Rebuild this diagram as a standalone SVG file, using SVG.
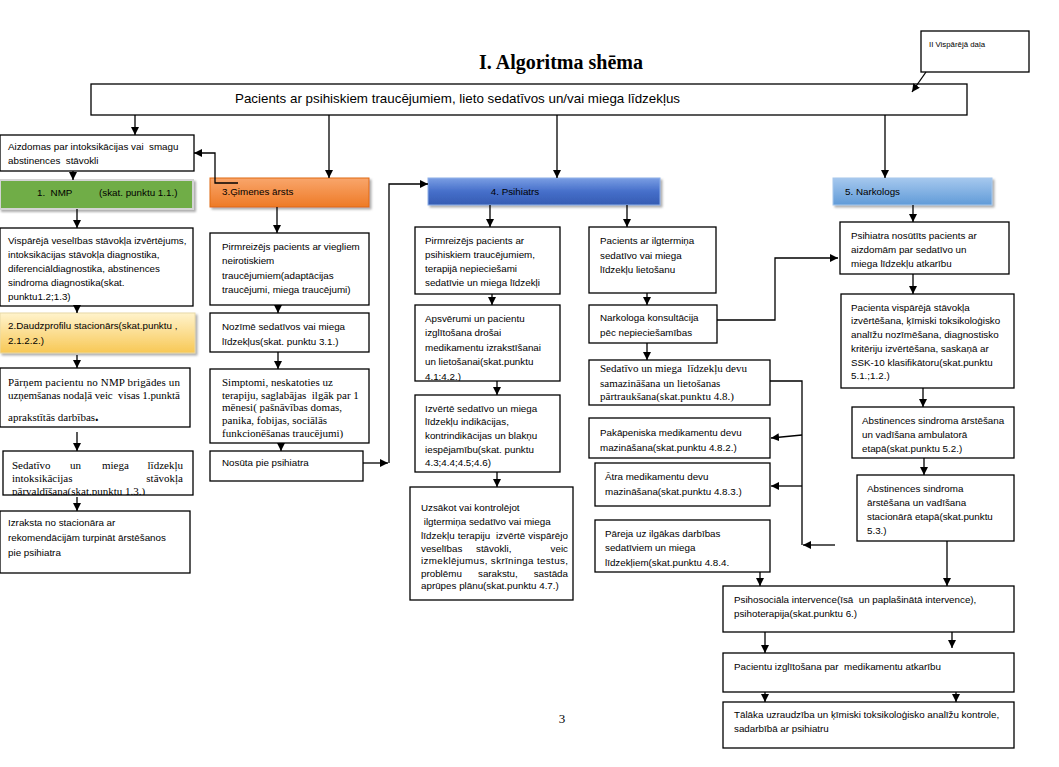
<svg xmlns="http://www.w3.org/2000/svg" width="1059" height="767" viewBox="0 0 1059 767">
<style>
.box{fill:#fff;stroke:#000;stroke-width:1.3}
.t{font-family:"Liberation Sans",Arial,sans-serif;font-size:9.8px;fill:#000;white-space:pre}
.s{font-family:"Liberation Serif","Times New Roman",serif;font-size:11px;fill:#000;white-space:pre}
.ln{fill:none;stroke:#000;stroke-width:1.3}
.ar{marker-end:url(#ah)}
</style>
<defs>
<marker id="ah" viewBox="0 0 10 10" refX="10" refY="5" markerWidth="8" markerHeight="8" markerUnits="userSpaceOnUse" orient="auto"><path d="M0,0 L10,5 L0,10 z" fill="#000"/></marker>
<filter id="sh" x="-5%" y="-20%" width="110%" height="150%"><feDropShadow dx="2" dy="2" stdDeviation="1" flood-color="#777" flood-opacity="0.6"/></filter>
<linearGradient id="gOr" x1="0" y1="0" x2="0" y2="1"><stop offset="0" stop-color="#f9a66c"/><stop offset="1" stop-color="#ee7a26"/></linearGradient>
<linearGradient id="gBl" x1="0" y1="0" x2="0" y2="1"><stop offset="0" stop-color="#7a9ee3"/><stop offset="0.5" stop-color="#466fca"/><stop offset="1" stop-color="#355bb2"/></linearGradient>
<linearGradient id="gLb" x1="0" y1="0" x2="0" y2="1"><stop offset="0" stop-color="#a6c8ee"/><stop offset="1" stop-color="#609bd8"/></linearGradient>
<linearGradient id="gYe" x1="0" y1="0" x2="0" y2="1"><stop offset="0" stop-color="#fff3cc"/><stop offset="1" stop-color="#f8c855"/></linearGradient>
<clipPath id="cSed"><rect x="3" y="451" width="190" height="44"/></clipPath>
<clipPath id="cApsv"><rect x="415" y="305" width="145" height="76"/></clipPath>
</defs>

<text x="561" y="69" text-anchor="middle" font-family="Liberation Serif,Times New Roman,serif" font-size="20" font-weight="bold">I. Algoritma shēma</text>
<text x="562" y="723" text-anchor="middle" font-family="Liberation Serif,Times New Roman,serif" font-size="13">3</text>

<g id="n-visparejadala"><rect class="box" x="921" y="31" width="108" height="41"/><text class="t" x="929" y="47" style="font-size:8px" textLength="56" lengthAdjust="spacingAndGlyphs">II Vispārējā daļa</text></g>

<g id="n-main"><rect class="box" x="91" y="84" width="876" height="31"/><text class="t" x="235" y="103" style="font-size:13.5px" textLength="445" lengthAdjust="spacingAndGlyphs">Pacients ar psihiskiem traucējumiem, lieto sedatīvos un/vai miega līdzekļus</text></g>

<g id="n-aizdomas"><rect class="box" x="0" y="135" width="194" height="36"/><text class="t" x="8" y="150">Aizdomas par intoksikācijas vai  smagu</text><text class="t" x="8" y="164">abstinences  stāvokli</text></g>

<g id="n-nmp"><rect x="0" y="180" width="193" height="29" fill="#70ad47" stroke="#d4d4d4" stroke-width="2" filter="url(#sh)"/><text class="t" x="37" y="196">1.  NMP</text><text class="t" x="99" y="196">(skat. punktu 1.1.)</text></g>

<g id="n-visp"><rect class="box" x="0" y="228" width="193" height="78"/>
<text class="t" x="8" y="244">Vispārējā veselības stāvokļa izvērtējums,</text>
<text class="t" x="8" y="258">intoksikācijas stāvokļa diagnostika,</text>
<text class="t" x="8" y="272">diferenciāldiagnostika, abstinences</text>
<text class="t" x="8" y="286">sindroma diagnostika(skat.</text>
<text class="t" x="8" y="300">punktu1.2;1.3)</text></g>

<g id="n-daudz"><rect x="0" y="313" width="195" height="40" fill="url(#gYe)" stroke="#e8d9a8" stroke-width="1" filter="url(#sh)"/><text class="t" x="8" y="329">2.Daudzprofilu stacionārs(skat.punktu ,</text><text class="t" x="8" y="344">2.1.2.2.)</text></g>

<g id="n-parnem"><rect class="box" x="0" y="368" width="190" height="59"/>
<text class="s" x="8" y="386" textLength="172" lengthAdjust="spacing">Pārņem pacientu no NMP brigādes un</text>
<text class="s" x="8" y="399" textLength="172" lengthAdjust="spacing">uzņemšanas nodaļā veic  visas 1.punktā</text>
<text class="s" x="8" y="421">aprakstītās darbības<tspan font-size="14" font-weight="bold">.</tspan></text></g>

<g id="n-sedintox"><rect class="box" x="3" y="451" width="190" height="44"/>
<g clip-path="url(#cSed)">
<text class="s" y="469"><tspan x="12">Sedatīvo</tspan><tspan x="70">un</tspan><tspan x="102">miega</tspan><tspan x="183" text-anchor="end">līdzekļu</tspan></text>
<text class="s" y="482"><tspan x="12">intoksikācijas</tspan><tspan x="183" text-anchor="end">stāvokļa</tspan></text>
<text class="s" x="12" y="495">pārvaldīšana(skat.punktu 1.3.)</text>
</g></g>

<g id="n-izraksta"><rect class="box" x="0" y="511" width="190" height="62"/>
<text class="t" x="8" y="526">Izraksta no stacionāra ar</text>
<text class="t" x="8" y="541">rekomendācijām turpināt ārstēšanos</text>
<text class="t" x="8" y="556">pie psihiatra</text></g>

<g id="n-gimenes"><rect x="210" y="178" width="159" height="29" fill="url(#gOr)" stroke="#e06a10" stroke-width="1" filter="url(#sh)"/><text class="t" x="222" y="195">3.Ģimenes ārsts</text></g>

<g id="n-gpirm"><rect class="box" x="210" y="233" width="159" height="72"/>
<text class="t" x="222" y="250">Pirmreizējs pacients ar viegliem</text>
<text class="t" x="222" y="264">neirotiskiem</text>
<text class="t" x="222" y="279">traucējumiem(adaptācijas</text>
<text class="t" x="222" y="293">traucējumi, miega traucējumi)</text></g>

<g id="n-nozime"><rect class="box" x="210" y="313" width="159" height="39"/>
<text class="t" x="222" y="330">Nozīmē sedatīvos vai miega</text>
<text class="t" x="222" y="345">līdzekļus(skat. punktu 3.1.)</text></g>

<g id="n-simptomi"><rect class="box" x="210" y="369" width="159" height="74"/>
<text class="s" x="222" y="386">Simptomi, neskatoties uz</text>
<text class="s" x="222" y="399">terapiju, saglabājas  ilgāk par 1</text>
<text class="s" x="222" y="411">mēnesi( pašnāvības domas,</text>
<text class="s" x="222" y="424">panika, fobijas, sociālās</text>
<text class="s" x="222" y="437">funkcionēšanas traucējumi)</text></g>

<g id="n-nosuta"><rect class="box" x="210" y="451" width="153" height="30"/><text class="t" x="222" y="466">Nosūta pie psihiatra</text></g>

<g id="n-psihiatrs"><rect x="428" y="178" width="232" height="27" fill="url(#gBl)" stroke="#8fb0e8" stroke-width="1" filter="url(#sh)"/><text class="t" x="515" y="195" text-anchor="middle">4. Psihiatrs</text></g>

<g id="n-ppirm"><rect class="box" x="415" y="227" width="145" height="67"/>
<text class="t" x="425" y="244">Pirmreizējs pacients ar</text>
<text class="t" x="425" y="258">psihiskiem traucējumiem,</text>
<text class="t" x="425" y="272">terapijā nepieciešami</text>
<text class="t" x="425" y="286">sedatīvie un miega līdzekļi</text></g>

<g id="n-apsv"><rect class="box" x="415" y="305" width="145" height="76"/>
<g clip-path="url(#cApsv)">
<text class="t" x="425" y="322">Apsvērumi un pacientu</text>
<text class="t" x="425" y="336">izglītošana drošai</text>
<text class="t" x="425" y="351">medikamentu izrakstīšanai</text>
<text class="t" x="425" y="365">un lietošanai(skat.punktu</text>
<text class="t" x="425" y="380">4.1:4.2.)</text>
</g></g>

<g id="n-izverte"><rect class="box" x="415" y="395" width="145" height="77"/>
<text class="t" x="425" y="412">Izvērtē sedatīvo un miega</text>
<text class="t" x="425" y="425">līdzekļu indikācijas,</text>
<text class="t" x="425" y="439">kontrindikācijas un blakņu</text>
<text class="t" x="425" y="453">iespējamību(skat. punktu</text>
<text class="t" x="425" y="466">4.3;4.4;4.5;4.6)</text></g>

<g id="n-uzsakot"><rect class="box" x="410" y="487" width="163" height="113"/>
<text class="t" x="421" y="511">Uzsākot vai kontrolējot</text>
<text class="t" x="421" y="525"> ilgtermiņa sedatīvo vai miega</text>
<text class="t" x="421" y="539" textLength="147" lengthAdjust="spacing">līdzekļu terapiju  izvērtē vispārējo</text>
<text class="t" y="552"><tspan x="421">veselības</tspan><tspan x="476">stāvokli,</tspan><tspan x="568" text-anchor="end">veic</tspan></text>
<text class="t" x="421" y="564" textLength="147" lengthAdjust="spacing">izmeklējumus, skrīninga testus,</text>
<text class="t" y="577"><tspan x="421">problēmu</tspan><tspan x="478">sarakstu,</tspan><tspan x="568" text-anchor="end">sastāda</tspan></text>
<text class="t" x="421" y="589">aprūpes plānu(skat.punktu 4.7.)</text></g>

<g id="n-ilgterm"><rect class="box" x="589" y="227" width="127" height="66"/>
<text class="t" x="600" y="244">Pacients ar ilgtermiņa</text>
<text class="t" x="600" y="259">sedatīvo vai miega</text>
<text class="t" x="600" y="273">līdzekļu lietošanu</text></g>

<g id="n-narkkons"><rect class="box" x="589" y="305" width="128" height="38"/>
<text class="t" x="600" y="321">Narkologa konsultācija</text>
<text class="t" x="600" y="336">pēc nepieciešamības</text></g>

<g id="n-devu"><rect class="box" x="589" y="360" width="181" height="45"/>
<text class="s" x="600" y="372">Sedatīvo un miega  līdzekļu devu</text>
<text class="s" x="600" y="387">samazināšana un lietošanas</text>
<text class="s" x="600" y="400">pārtraukšana(skat.punktu 4.8.)</text></g>

<g id="n-pakap"><rect class="box" x="589" y="418" width="181" height="40"/>
<text class="t" x="600" y="436">Pakāpeniska medikamentu devu</text>
<text class="t" x="600" y="451">mazināšana(skat.punktu 4.8.2.)</text></g>

<g id="n-atra"><rect class="box" x="595" y="463" width="175" height="43"/>
<text class="t" x="605" y="480">Ātra medikamentu devu</text>
<text class="t" x="605" y="495">mazināšana(skat.punktu 4.8.3.)</text></g>

<g id="n-pareja"><rect class="box" x="595" y="520" width="175" height="52"/>
<text class="t" x="605" y="537">Pāreja uz ilgākas darbības</text>
<text class="t" x="605" y="551">sedatīviem un miega</text>
<text class="t" x="605" y="566">līdzekļiem(skat.punktu 4.8.4.</text></g>

<g id="n-narkologs"><rect x="833" y="178" width="159" height="27" fill="url(#gLb)" stroke="#a8c8ec" stroke-width="1" filter="url(#sh)"/><text class="t" x="845" y="195">5. Narkologs</text></g>

<g id="n-psinosut"><rect class="box" x="840" y="222" width="169" height="52"/>
<text class="t" x="851" y="239">Psihiatra nosūtīts pacients ar</text>
<text class="t" x="851" y="253">aizdomām par sedatīvo un</text>
<text class="t" x="851" y="267">miega līdzekļu atkarību</text></g>

<g id="n-pacvisp"><rect class="box" x="841" y="294" width="173" height="94"/>
<text class="t" x="851" y="311">Pacienta vispārējā stāvokļa</text>
<text class="t" x="851" y="324">izvērtēšana, ķīmiski toksikoloģisko</text>
<text class="t" x="851" y="338">analīžu nozīmēšana, diagnostisko</text>
<text class="t" x="851" y="352">kritēriju izvērtēšana, saskaņā ar</text>
<text class="t" x="851" y="366">SSK-10 klasifikātoru(skat.punktu</text>
<text class="t" x="851" y="379">5.1.;1.2.)</text></g>

<g id="n-abstamb"><rect class="box" x="852" y="407" width="162" height="51"/>
<text class="t" x="862" y="424">Abstinences sindroma ārstēšana</text>
<text class="t" x="862" y="438">un vadīšana ambulatorā</text>
<text class="t" x="862" y="452">etapā(skat.punktu 5.2.)</text></g>

<g id="n-abststac"><rect class="box" x="857" y="475" width="157" height="66"/>
<text class="t" x="867" y="492">Abstinences sindroma</text>
<text class="t" x="867" y="506">ārstēšana un vadīšana</text>
<text class="t" x="867" y="520">stacionārā etapā(skat.punktu</text>
<text class="t" x="867" y="534">5.3.)</text></g>

<g id="n-psihosoc"><rect class="box" x="723" y="586" width="291" height="46"/>
<text class="t" x="734" y="603">Psihosociāla intervence(īsā  un paplašinātā intervence),</text>
<text class="t" x="734" y="617">psihoterapija(skat.punktu 6.)</text></g>

<g id="n-izglit"><rect class="box" x="723" y="653" width="291" height="39"/>
<text class="t" x="734" y="670">Pacientu izglītošana par  medikamentu atkarību</text></g>

<g id="n-talaka"><rect class="box" x="723" y="702" width="291" height="46"/>
<text class="t" x="734" y="718">Tālāka uzraudzība un ķīmiski toksikoloģisko analīžu kontrole,</text>
<text class="t" x="734" y="732">sadarbībā ar psihiatru</text></g>

<g id="connectors">
<path class="ln ar" d="M926,72 L912,92"/>
<path class="ln ar" d="M135,115 V135"/>
<path class="ln ar" d="M329,115 V178"/>
<path class="ln ar" d="M557,115 V178"/>
<path class="ln ar" d="M885,115 V178"/>
<path class="ln ar" d="M238,183 H215 V153 H194"/>
<path class="ln ar" d="M73,171 V180"/>
<path class="ln ar" d="M77,209 V228"/>
<path class="ln ar" d="M77,306 V313"/>
<path class="ln ar" d="M77,355 V368"/>
<path class="ln ar" d="M77,432 V451"/>
<path class="ln ar" d="M77,497 V511"/>
<path class="ln ar" d="M277,207 V233"/>
<path class="ln ar" d="M278,305 V313"/>
<path class="ln ar" d="M278,352 V369"/>
<path class="ln ar" d="M281,443 V451"/>
<path class="ln ar" d="M363,463 H388"/>
<path class="ln ar" d="M389,463 V184 H428"/>
<path class="ln ar" d="M490,205 V227"/>
<path class="ln ar" d="M492,294 V305"/>
<path class="ln ar" d="M497,381 V395"/>
<path class="ln ar" d="M497,472 V487"/>
<path class="ln ar" d="M627,205 V227"/>
<path class="ln ar" d="M647,293 V305"/>
<path class="ln ar" d="M717,320 H775 V258 H838"/>
<path class="ln ar" d="M647,343 V360"/>
<path class="ln" d="M770,381 H802 V545"/>
<path class="ln ar" d="M802,435 L771,438"/>
<path class="ln ar" d="M802,486 H771"/>
<path class="ln ar" d="M835,545 H803"/>
<path class="ln ar" d="M760,572 V586"/>
<path class="ln ar" d="M947,541 V586"/>
<path class="ln ar" d="M765,632 V653"/>
<path class="ln ar" d="M952,632 V648"/>
<path class="ln ar" d="M765,692 V702"/>
<path class="ln ar" d="M956,692 V702"/>
<path class="ln ar" d="M913,205 V222"/>
<path class="ln ar" d="M913,274 V294"/>
<path class="ln ar" d="M923,388 V407"/>
<path class="ln ar" d="M924,458 V475"/>
</g>
</svg>
